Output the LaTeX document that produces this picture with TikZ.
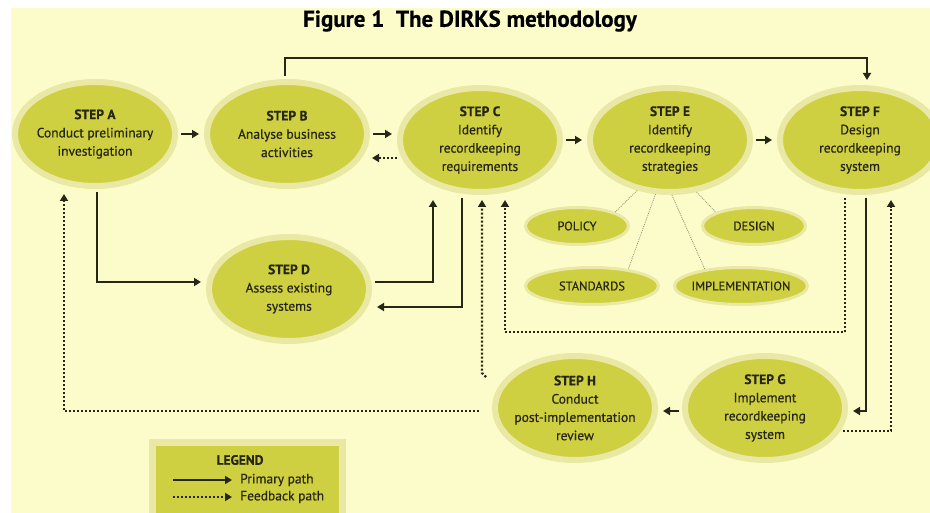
\documentclass[tikz,border=0pt]{standalone}
\usepackage{fontspec}
\setmainfont{PT Sans}[FakeBold=0.5]
\usetikzlibrary{shapes.geometric,arrows.meta}
\definecolor{paper}{RGB}{252,252,202}
\definecolor{olivefill}{RGB}{207,207,66}
\definecolor{halo}{RGB}{233,233,165}
\definecolor{ink}{RGB}{38,38,22}
\definecolor{linkgrey}{RGB}{150,150,118}
\newcommand{\steplabel}[2]{%
  \textbf{STEP #1}\\#2%
}

\begin{document}
\begin{tikzpicture}[
      x=1pt, y=-1pt,
      every node/.style={inner sep=0pt,text=ink,font=\fontsize{13.5}{18.3}\selectfont},
      heading/.style={font=\fontsize{23}{26}\selectfont\bfseries,text=black},
      stage/.style={ellipse,align=center,fill=olivefill,draw=halo,line width=6pt,
        inner xsep=-10pt,minimum width=160pt,minimum height=104pt},
      topic/.style={ellipse,fill=olivefill,draw=halo,line width=3pt,inner xsep=-16pt,
        minimum width=103pt,minimum height=37pt,font=\fontsize{12.5}{14}\selectfont},
      widetopic/.style={topic,minimum width=133pt},
      legendbox/.style={rectangle,fill=olivefill,draw=halo,line width=7pt,
        minimum width=190pt,minimum height=90pt},
      primary/.style={-{Triangle[length=7pt,width=8pt]},line width=2pt,draw=ink,
        shorten <=3pt,shorten >=5pt},
      feedback/.style={primary,line width=2.3pt,dash pattern=on 2pt off 2pt},
      link/.style={draw=linkgrey,line width=0.8pt,dash pattern=on 1pt off 1pt}
    ]

      % Page, background and heading
      \useasboundingbox (0,0) rectangle (930,513);
      \clip (0,0) rectangle (930,513);
      \fill[white] (0,0) rectangle (930,513);
      \fill[paper] (11,8) rectangle (930,513);
      \node[heading] (title) at (470,21) {Figure 1\ \ The DIRKS methodology};

      % The steps: top row, then D, then H and G
      \node[stage] (A) at (95,134) {\steplabel{A}{Conduct preliminary\\investigation}};
      \node[stage] (B) at (287,134) {\steplabel{B}{Analyse business\\activities}};
      \node[stage] (C) at (480,140) {\steplabel{C}{Identify\\recordkeeping\\requirements}};
      \node[stage] (E) at (670,140) {\steplabel{E}{Identify\\recordkeeping\\strategies}};
      \node[stage] (F) at (860,140) {\steplabel{F}{Design\\recordkeeping\\system}};
      \node[stage] (D) at (289,289) {\steplabel{D}{Assess existing\\systems}};
      \node[stage] (H) at (575,408) {\steplabel{H}{Conduct\\post-implementation\\review}};
      \node[stage] (G) at (765,408) {\steplabel{G}{Implement\\recordkeeping\\system}};

      % Strategies hanging off step E
      \node[topic] (pol) at (577,226) {POLICY};
      \node[topic] (des) at (754,226) {DESIGN};
      \node[widetopic] (std) at (592,286) {STANDARDS};
      \node[widetopic] (imp) at (741,286) {IMPLEMENTATION};
      \draw[link] (E.237) -- (pol.20);
      \draw[link] (E.255) -- (std.25);
      \draw[link] (E.272) -- (imp.155);
      \draw[link] (E.297) -- (des.160);

      % Primary path
      \draw[primary] (A) -- (B);
      \draw[primary] (B.east) -- (B.east -| C.west);
      \draw[primary] (C) -- (E);
      \draw[primary] (E) -- (F);
      \draw[primary] ([xshift=-2pt]B.north) |- ([xshift=7pt,yshift=27pt]F.north) -- ([xshift=7pt]F.north);
      \draw[primary] ([xshift=2pt]A.south) |- ([yshift=7pt]D.west);
      \draw[primary] ([yshift=7pt]D.east) -| ([xshift=-47pt]C.south);
      \draw[primary] ([xshift=-18pt]C.south) |- ([yshift=-18pt]D.east);
      \draw[primary] ([xshift=6pt]F.south) |- ([yshift=-3pt]G.east);
      \draw[primary] ([yshift=-3pt]G.west) -- ([yshift=-3pt]H.east);

      % Feedback path
      \draw[feedback,shorten <=0pt,shorten >=2pt] ([yshift=-18pt]C.west) -- ([yshift=-18pt]C.west -| B.east);
      \draw[feedback] ([xshift=-10pt,yshift=-3pt]H.west) -| ([xshift=-31pt]A.south);
      \draw[feedback,shorten <=0pt] ([xshift=-89pt,yshift=-24pt]H.north) -- ++(-4pt,4pt) -- ([xshift=2pt]C.south);
      \draw[feedback] ([xshift=-15pt]F.south) |- ([xshift=25pt,yshift=-137pt]C.south) -- ([xshift=25pt]C.south);
      \draw[feedback] ([xshift=-8pt,yshift=-23pt]G.east) -| ([xshift=31pt]F.south);

      % Legend
      \node[legendbox] (legend) at (247,487.5) {};
      \node[font=\fontsize{13.5}{15}\selectfont\bfseries] (legtitle) at (240,460) {LEGEND};
      \node[anchor=west] (legprim) at (240,480) {Primary path};
      \node[anchor=west] (legfeed) at (240,497) {Feedback path};
      \coordinate (primstart) at (173,480);
      \coordinate (feedstart) at (173,497);
      \draw[primary,shorten <=0pt,shorten >=8pt] (primstart) -- (legprim.west);
      \draw[feedback,shorten <=0pt,shorten >=8pt] (feedstart) -- (legfeed.west);
    \end{tikzpicture}
\end{document}
